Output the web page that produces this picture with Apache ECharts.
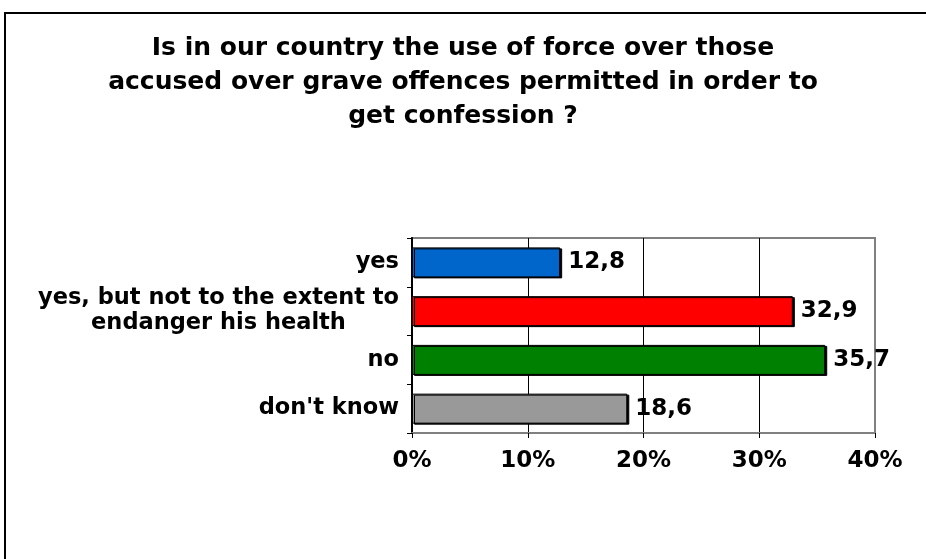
<!DOCTYPE html>
<html>
<head>
<meta charset="utf-8">
<script src="https://cdn.jsdelivr.net/npm/echarts@6/dist/echarts.min.js"></script>
<style>
  html, body { margin: 0; padding: 0; background: #fff; }
  #chart { width: 926px; height: 559px; }
</style>
</head>
<body>
<div id="chart"></div>
<script>
var titleText = 'Is in our country the use of force over those\naccused over grave offences permitted in order to\nget confession ?';
var categories = ['yes', 'yes, but not to the extent to\nendanger his health', 'no', "don't know"];
var values = [12.8, 32.9, 35.7, 18.6];
var barColors = ['#0066CC', '#FF0000', '#008000', '#999999'];
var axisMin = 0, axisMax = 40, axisStep = 10;

var font = 'DejaVu Sans';

function makeOption() {
  var data = values.map(function (v, i) {
    return { value: v, itemStyle: { color: barColors[i] } };
  });
  var option = {
    animation: false,
    backgroundColor: '#fff',
    title: {
      text: titleText,
      left: 'center',
      top: 26,
      textStyle: {
        fontFamily: font,
        fontWeight: 'bold',
        fontSize: 25,
        lineHeight: 34,
        color: '#000'
      }
    },
    graphic: [{
      type: 'rect',
      z: -10,
      shape: { x: 5, y: 13, width: 1000, height: 1000 },
      style: { fill: 'none', stroke: '#000', lineWidth: 2 }
    }],
    grid: {
      left: 412, right: 51, top: 238, bottom: 126,
      show: true,
      borderColor: '#808080',
      borderWidth: 2,
      containLabel: false
    },
    xAxis: {
      type: 'value',
      min: axisMin, max: axisMax, interval: axisStep,
      axisLine: { show: true, lineStyle: { color: '#808080', width: 2 } },
      axisTick: { show: true, length: 5, lineStyle: { color: '#000', width: 1 } },
      splitLine: { show: true, lineStyle: { color: ['#000', '#000', '#000', '#000', '#808080'], width: 1 } },
      axisLabel: {
        formatter: '{value}%',
        margin: 17,
        fontFamily: font, fontWeight: 'bold', fontSize: 23, color: '#000'
      }
    },
    yAxis: {
      type: 'category',
      data: categories,
      inverse: true,
      axisLine: { show: true, lineStyle: { color: '#000', width: 2 } },
      axisTick: { show: true, length: 5, lineStyle: { color: '#000', width: 1 } },
      axisLabel: {
        margin: 13,
        formatter: function (val) {
          return val.split('\n').map(function (s) { return '{c|' + s + '}'; }).join('\n');
        },
        rich: {
          c: {
            align: 'center',
            fontFamily: font, fontWeight: 'bold', fontSize: 22.5, lineHeight: 25, color: '#000'
          }
        }
      }
    },
    series: [{
      type: 'bar',
      data: data,
      barWidth: 30,
      itemStyle: {
        borderColor: '#000',
        borderWidth: 1,
        shadowColor: '#000',
        shadowBlur: 0,
        shadowOffsetX: 2,
        shadowOffsetY: 1
      },
      label: {
        show: true,
        position: 'right',
        distance: 8,
        formatter: function (p) { return String(p.value).replace('.', ','); },
        fontFamily: font, fontWeight: 'bold', fontSize: 23, color: '#000'
      }
    }]
  };
  return option;
}

var myChart = echarts.init(document.getElementById('chart'));
myChart.setOption(makeOption());
</script>
</body>
</html>
